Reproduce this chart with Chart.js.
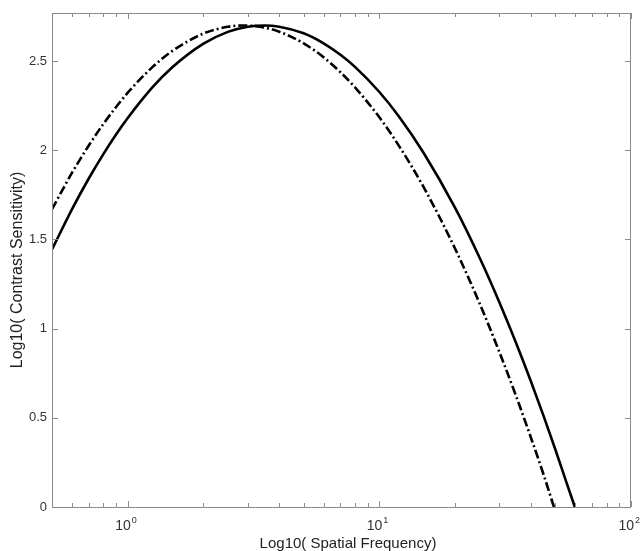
<!DOCTYPE html>
<html lang="en">
<head>
    <meta charset="UTF-8">
    <title>Contrast Sensitivity</title>
    <script src="https://cdn.jsdelivr.net/npm/chart.js"></script>
    <style>
        body {
            margin: 0;
            padding: 0;
            background-color: #fff;
        }
        canvas {
            display: block;
        }
    </style>
</head>
<body>
    <canvas id="csf" width="641" height="551"></canvas>

    <script>
        // spatial frequency (cycles/deg) and log10 sensitivity
        const freqSolid = [0.5, 0.6, 0.7, 0.8, 0.9, 1, 1.25, 1.5, 2, 2.5, 3, 3.5, 4, 5, 6, 7, 8, 10, 12, 15, 20, 25, 30, 35, 40, 45, 50, 55, 59.8];
        const sensSolid = [1.444, 1.669, 1.842, 1.979, 2.090, 2.181, 2.351, 2.464, 2.598, 2.664, 2.693, 2.700, 2.693, 2.656, 2.600, 2.536, 2.468, 2.327, 2.187, 1.985, 1.677, 1.399, 1.147, 0.917, 0.705, 0.508, 0.324, 0.151, 0];

        const freqDash = [0.5, 0.6, 0.7, 0.8, 0.9, 1, 1.25, 1.5, 2, 2.5, 2.9, 3.5, 4, 5, 6, 7, 8, 10, 12, 15, 20, 25, 30, 35, 40, 45, 49.4];
        const sensDash = [1.670, 1.873, 2.027, 2.148, 2.244, 2.323, 2.465, 2.556, 2.655, 2.693, 2.700, 2.688, 2.665, 2.600, 2.522, 2.438, 2.353, 2.185, 2.022, 1.793, 1.448, 1.143, 0.868, 0.619, 0.390, 0.179, 0];

        const xMajor = [1, 10, 100];
        const xExp = ["0", "1", "2"];
        const xMinor = [0.6, 0.7, 0.8, 0.9, 2, 3, 4, 5, 6, 7, 8, 9, 20, 30, 40, 50, 60, 70, 80, 90];
        const yTicks = [0, 0.5, 1, 1.5, 2, 2.5];
        const xTitle = "Log10( Spatial Frequency)";
        const yTitle = "Log10( Contrast Sensitivity)";

        // matlab style box, inward ticks on all four sides, 10^n labels and axis titles
        const boxPlugin = {
            id: "box",
            afterDraw(chart) {
                const ctx = chart.ctx;
                const { left, right, top, bottom } = chart.chartArea;
                const x = chart.scales.x;
                const y = chart.scales.y;
                ctx.save();
                ctx.strokeStyle = "#8a8a8a";
                ctx.lineWidth = 1;
                ctx.strokeRect(left + 0.5, top + 0.5, right - left - 1, bottom - top);
                ctx.beginPath();
                xMajor.concat(xMinor).forEach((v) => {
                    const len = xMajor.includes(v) ? 6 : 4;
                    const px = Math.round(x.getPixelForValue(v)) + 0.5;
                    ctx.moveTo(px, bottom);
                    ctx.lineTo(px, bottom - len);
                    ctx.moveTo(px, top);
                    ctx.lineTo(px, top + len);
                });
                yTicks.forEach((v) => {
                    const py = Math.round(y.getPixelForValue(v)) + 0.5;
                    ctx.moveTo(left, py);
                    ctx.lineTo(left + 6, py);
                    ctx.moveTo(right, py);
                    ctx.lineTo(right - 6, py);
                });
                ctx.stroke();

                // x tick labels 10^n
                ctx.fillStyle = "#333";
                ctx.textBaseline = "alphabetic";
                xMajor.forEach((v, i) => {
                    const px = x.getPixelForValue(v);
                    ctx.font = "14px 'Liberation Sans'";
                    ctx.textAlign = "right";
                    ctx.fillText("10", px + 3, 530);
                    ctx.font = "9px 'Liberation Sans'";
                    ctx.textAlign = "left";
                    ctx.fillText(xExp[i], px + 4, 523);
                });

                // axis titles
                ctx.fillStyle = "#222";
                ctx.textAlign = "center";
                ctx.textBaseline = "middle";
                ctx.font = "15px 'Liberation Sans'";
                ctx.fillText(xTitle, 348, 544);
                ctx.translate(18, 270);
                ctx.rotate(-Math.PI / 2);
                ctx.font = "16px 'Liberation Sans'";
                ctx.fillText(yTitle, 0, 0);
                ctx.restore();
            }
        };

        new Chart(document.getElementById("csf"), {
            type: "line",
            data: {
                datasets: [
                    {
                        label: "solid",
                        data: freqSolid.map((f, i) => ({ x: f, y: sensSolid[i] })),
                        borderColor: "#000",
                        borderWidth: 2.6,
                        pointRadius: 0,
                        cubicInterpolationMode: "monotone",
                        fill: false
                    },
                    {
                        label: "dashdot",
                        data: freqDash.map((f, i) => ({ x: f, y: sensDash[i] })),
                        borderColor: "#000",
                        borderWidth: 2.6,
                        borderDash: [9, 3, 2, 3],
                        pointRadius: 0,
                        cubicInterpolationMode: "monotone",
                        fill: false
                    }
                ]
            },
            options: {
                responsive: false,
                animation: false,
                layout: { padding: { top: 13, right: 10, left: 0, bottom: 0 } },
                plugins: {
                    legend: { display: false },
                    tooltip: { enabled: false }
                },
                scales: {
                    x: {
                        type: "logarithmic",
                        min: 0.5,
                        max: 100,
                        grid: { display: false, drawTicks: false },
                        border: { display: false },
                        afterBuildTicks: (scale) => {
                            scale.ticks = xMajor.map((v) => ({ value: v }));
                        },
                        afterFit: (scale) => { scale.height = 44; },
                        ticks: { display: false }
                    },
                    y: {
                        min: 0,
                        max: 2.77,
                        grid: { display: false, drawTicks: false },
                        border: { display: false },
                        afterBuildTicks: (scale) => {
                            scale.ticks = yTicks.map((v) => ({ value: v }));
                        },
                        afterFit: (scale) => { scale.width = 52; },
                        ticks: {
                            padding: 5,
                            color: "#333",
                            font: { family: "Liberation Sans", size: 13 },
                            callback: (v) => String(v)
                        }
                    }
                }
            },
            plugins: [boxPlugin]
        });
    </script>
</body>
</html>
